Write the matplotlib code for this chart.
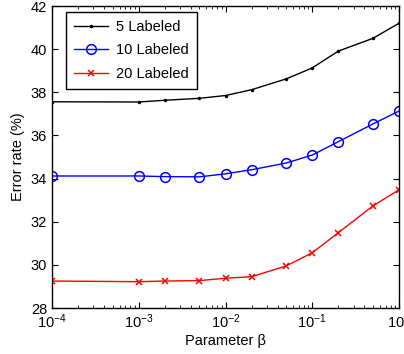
import numpy as np
import matplotlib
matplotlib.use("Agg")
from matplotlib import pyplot as plt

plt.rcParams['font.family'] = ['Liberation Sans', 'DejaVu Sans']
plt.rcParams['mathtext.fontset'] = 'custom'
plt.rcParams['mathtext.rm'] = 'Liberation Sans'
plt.rcParams['mathtext.it'] = 'Liberation Sans'

# ---------------------------- Dados ---------------------------- #
beta = [1e-4, 1e-3, 2e-3, 5e-3, 1e-2, 2e-2, 5e-2, 1e-1, 2e-1, 5e-1, 1]
erro_5 = [37.56, 37.55, 37.63, 37.72, 37.85, 38.12, 38.62, 39.13, 39.91, 40.50, 41.20]
erro_10 = [34.12, 34.12, 34.09, 34.08, 34.22, 34.41, 34.72, 35.09, 35.71, 36.53, 37.13]
erro_20 = [29.25, 29.22, 29.25, 29.27, 29.38, 29.45, 29.95, 30.56, 31.49, 32.73, 33.48]
rotulos = ["5 Labeled", "10 Labeled", "20 Labeled"]

# ---------------------------- Grafico ---------------------------- #
fig = plt.figure(figsize=(4.04, 3.54), dpi=100)
ax = fig.add_axes([52 / 404, 1 - 308 / 354, 347 / 404, 302 / 354])

ax.plot(beta, erro_5, color="black", marker=".", markersize=3, linewidth=1, label=rotulos[0])
ax.plot(beta, erro_10, color="blue", marker="o", markersize=7, markerfacecolor="none",
        markeredgewidth=1.1, linewidth=1, label=rotulos[1])
ax.plot(beta, erro_20, color="red", marker="x", markersize=5, markeredgewidth=1.1,
        linewidth=1, label=rotulos[2])

ax.set_xscale("log")
ax.set_xlim(1e-4, 1)
ax.set_ylim(28, 42)
ax.set_yticks(np.arange(28, 43, 2))
ax.set_xticks([1e-4, 1e-3, 1e-2, 1e-1, 1])
ax.set_xticklabels([r"$10^{-4}$", r"$10^{-3}$", r"$10^{-2}$", r"$10^{-1}$", r"$10^{0}$"])

ax.tick_params(which="both", direction="in", top=True, right=True, labelsize=10.5)
ax.tick_params(which="major", length=4)
ax.tick_params(which="minor", length=2)
for s in ax.spines.values():
    s.set_linewidth(1)

ax.set_xlabel("Parameter β", fontsize=10.5, labelpad=2)
ax.set_ylabel("Error rate (%)", fontsize=10.5, labelpad=4)

leg = ax.legend(loc="upper left", bbox_to_anchor=(14 / 347, 1 - 6 / 302), fontsize=10.5,
                fancybox=False, framealpha=1, edgecolor="black", handlelength=2.3,
                handletextpad=0.6, borderaxespad=0, labelspacing=0.65, borderpad=0.55)
leg.get_frame().set_linewidth(1)

fig.savefig("out.png", dpi=100)
